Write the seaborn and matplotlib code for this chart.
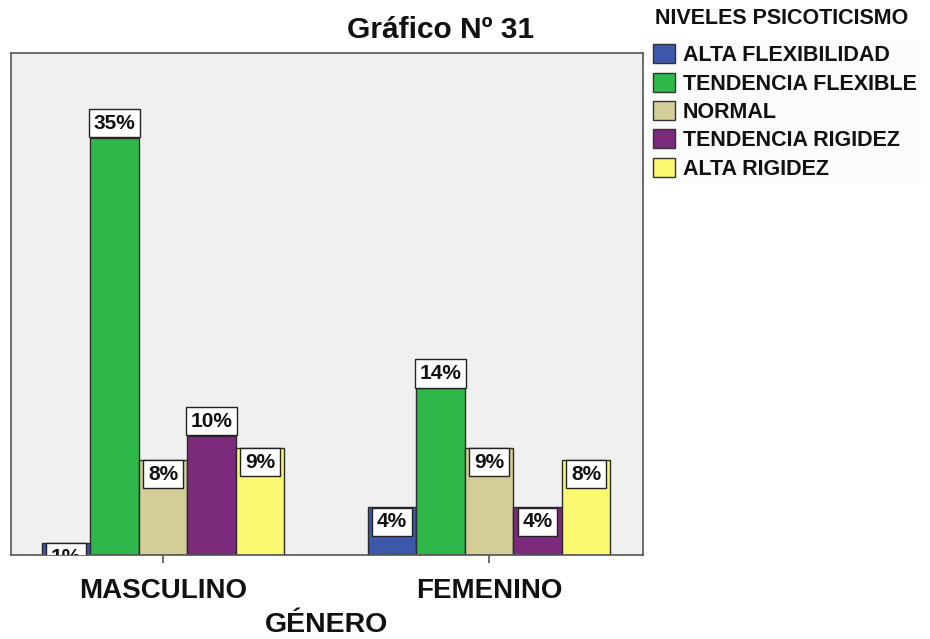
import matplotlib
matplotlib.use("Agg")
import matplotlib.pyplot as plt
import seaborn as sns
import pandas as pd
from matplotlib.patches import Patch

# Datos: porcentaje por género y nivel de psicoticismo
generos = ["MASCULINO", "FEMENINO"]
niveles = ["ALTA FLEXIBILIDAD", "TENDENCIA FLEXIBLE", "NORMAL",
           "TENDENCIA RIGIDEZ", "ALTA RIGIDEZ"]
masculino = [1, 35, 8, 10, 9]
femenino = [4, 14, 9, 4, 8]

colores = ["#3D58AB", "#2EB84A", "#D3CE98", "#7C2A7B", "#FBF872"]

# Etiquetas que van encima de la barra (el resto va dentro, arriba)
etiquetas_encima = {("MASCULINO", "TENDENCIA FLEXIBLE"),
                    ("MASCULINO", "TENDENCIA RIGIDEZ"),
                    ("FEMENINO", "TENDENCIA FLEXIBLE")}

df = pd.DataFrame({
    "genero": [g for g in generos for _ in niveles],
    "nivel": niveles * 2,
    "pct": masculino + femenino,
})

sns.set_theme(style="white")
plt.rcParams["font.family"] = ["Liberation Sans", "DejaVu Sans"]

fig = plt.figure(figsize=(9.3, 6.39), dpi=100)
ax = fig.add_axes([0.0118, 0.1315, 0.6796, 0.7855])
ax.set_facecolor("#F0F0F0")

sns.barplot(data=df, x="genero", y="pct", hue="nivel", order=generos,
            hue_order=niveles, palette=colores, width=0.744,
            edgecolor="#2a2a2a", linewidth=1.0, saturation=1,
            legend=False, ax=ax)

ax.set_xlim(-0.466, 1.472)
ax.set_ylim(0, 42.1)
ax.set_yticks([])
ax.set_ylabel("")
ax.set_xlabel("")

for s in ax.spines.values():
    s.set_color("#555555")
    s.set_linewidth(1.2)

ax.tick_params(axis="x", length=6, width=1.2, color="#555555", pad=10.5,
               bottom=True)
for t in ax.get_xticklabels():
    t.set_fontsize(20)
    t.set_fontweight("bold")
    t.set_color("#111111")

# Título del eje X
fig.text(327 / 930, 1 - 632 / 639, "GÉNERO", ha="center", va="baseline",
         fontsize=20.5, fontweight="bold", color="#111111")

# Etiquetas de porcentaje en recuadros blancos
for nivel, cont in zip(niveles, ax.containers):
    for genero, bar in zip(generos, cont):
        v = bar.get_height()
        x = bar.get_x() + bar.get_width() / 2
        encima = (genero, nivel) in etiquetas_encima
        ax.annotate(f"{v:.0f}%", (x, v),
                    xytext=(0, 5 if encima else -5),
                    textcoords="offset pixels", ha="center",
                    va="bottom" if encima else "top",
                    fontsize=15, fontweight="bold", color="#111111",
                    bbox=dict(boxstyle="square,pad=0.22", fc="white",
                              ec="#222222", lw=1.0),
                    annotation_clip=False, clip_on=True)

fig.text(0.474, 0.953, "Gráfico Nº 31", ha="center", va="center",
         fontsize=21.5, fontweight="bold", color="#111111")

# Leyenda con su título aparte
fig.text(655 / 930, 1 - 19 / 639, "NIVELES PSICOTICISMO", ha="left",
         va="center", fontsize=15.5, fontweight="bold", color="#111111")
handles = [Patch(facecolor=c, edgecolor="#333333", linewidth=1.0, label=n)
           for c, n in zip(colores, niveles)]
leg = fig.legend(handles=handles, loc="upper left",
                 bbox_to_anchor=(649 / 930, 1 - 40 / 639),
                 fontsize=15.5, frameon=True, facecolor="#FAFAFA",
                 edgecolor="none", fancybox=False, handlelength=1.02,
                 handleheight=0.98, handletextpad=0.36, labelspacing=0.3,
                 borderpad=0.2, borderaxespad=0)
for t in leg.get_texts():
    t.set_fontweight("bold")
    t.set_color("#111111")

fig.savefig("out.png", dpi=100)
